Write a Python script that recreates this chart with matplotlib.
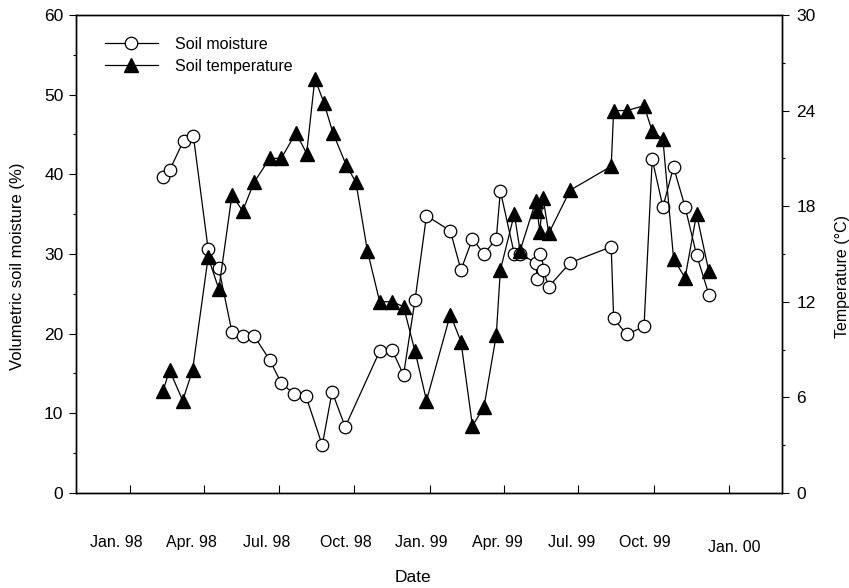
import pandas as pd
import matplotlib
matplotlib.use("Agg")
import matplotlib.pyplot as plt

plt.rcParams['font.family'] = ['Liberation Sans', 'DejaVu Sans']

# soil moisture sampling dates and values (%)
moisture_dates = [
    "1998-02-10", "1998-02-18", "1998-03-07", "1998-03-19", "1998-04-06",
    "1998-04-19", "1998-05-05", "1998-05-18", "1998-06-01", "1998-06-20",
    "1998-07-04", "1998-07-20", "1998-08-03", "1998-08-23", "1998-09-04",
    "1998-09-20", "1998-11-01", "1998-11-16", "1998-11-30", "1998-12-14",
    "1998-12-28", "1999-01-26", "1999-02-08", "1999-02-22", "1999-03-08",
    "1999-03-23", "1999-03-28", "1999-04-14", "1999-04-21", "1999-05-10",
    "1999-05-12", "1999-05-15", "1999-05-19", "1999-05-26", "1999-06-21",
    "1999-08-10", "1999-08-13", "1999-08-29", "1999-09-19", "1999-09-29",
    "1999-10-12", "1999-10-25", "1999-11-08", "1999-11-22", "1999-12-07",
]
moisture = [
    39.6, 40.5, 44.2, 44.8, 30.6,
    28.2, 20.2, 19.7, 19.7, 16.7,
    13.8, 12.4, 12.2, 6.0, 12.7,
    8.3, 17.8, 18.0, 14.8, 24.2,
    34.8, 32.9, 28.0, 31.9, 30.0,
    31.9, 37.9, 30.0, 30.0, 28.9,
    26.9, 30.0, 28.0, 25.9, 28.9,
    30.9, 21.9, 19.9, 20.9, 41.9,
    35.9, 40.9, 35.9, 29.9, 24.9,
]

# soil temperature sampling dates and values (degC)
temp_dates = [
    "1998-02-10", "1998-02-18", "1998-03-06", "1998-03-18", "1998-04-06",
    "1998-04-19", "1998-05-05", "1998-05-18", "1998-06-01", "1998-06-20",
    "1998-07-04", "1998-07-22", "1998-08-04", "1998-08-14", "1998-08-25",
    "1998-09-05", "1998-09-21", "1998-10-03", "1998-10-17", "1998-11-01",
    "1998-11-16", "1998-11-30", "1998-12-14", "1998-12-28", "1999-01-26",
    "1999-02-08", "1999-02-22", "1999-03-08", "1999-03-23", "1999-03-28",
    "1999-04-14", "1999-04-21", "1999-05-10", "1999-05-12", "1999-05-15",
    "1999-05-19", "1999-05-26", "1999-06-21", "1999-08-10", "1999-08-13",
    "1999-08-29", "1999-09-19", "1999-09-29", "1999-10-12", "1999-10-25",
    "1999-11-08", "1999-11-22", "1999-12-07",
]
temperature = [
    6.4, 7.7, 5.8, 7.7, 14.8,
    12.8, 18.7, 17.7, 19.5, 21.0,
    21.0, 22.6, 21.3, 26.0, 24.5,
    22.6, 20.6, 19.5, 15.2, 12.0,
    12.0, 11.7, 8.9, 5.8, 11.2,
    9.5, 4.2, 5.4, 9.9, 14.0,
    17.5, 15.2, 18.3, 17.7, 16.4,
    18.5, 16.3, 19.0, 20.5, 24.0,
    24.0, 24.3, 22.7, 22.2, 14.7,
    13.5, 17.5, 13.9,
]

tick_dates = ["1998-01-01", "1998-04-01", "1998-07-01", "1998-10-01", "1999-01-01",
              "1999-04-01", "1999-07-01", "1999-10-01", "2000-01-01"]
tick_labels = ["Jan. 98", "Apr. 98", "Jul. 98", "Oct. 98", "Jan. 99",
               "Apr. 99", "Jul. 99", "Oct. 99", "Jan. 00"]

md = pd.to_datetime(moisture_dates)
td = pd.to_datetime(temp_dates)
ticks = pd.to_datetime(tick_dates)

fig = plt.figure(figsize=(8.49, 5.88), dpi=100)
ax = fig.add_axes([0.0895, 0.1616, 0.8315, 0.813])
ax2 = ax.twinx()

ln1, = ax.plot(md, moisture, color='black', lw=0.9, marker='o', markersize=9,
               markerfacecolor='white', markeredgecolor='black', markeredgewidth=0.9,
               label="Soil moisture")
ln2, = ax2.plot(td, temperature, color='black', lw=0.9, marker='^', markersize=9.5,
                markerfacecolor='black', markeredgecolor='black',
                label="Soil temperature")

ax.set_xlim(pd.Timestamp("1997-10-27"), pd.Timestamp("2000-03-05"))
ax.set_ylim(0, 60)
ax2.set_ylim(0, 30)

ax.set_yticks(range(0, 61, 10))
ax.set_yticks(range(5, 60, 10), minor=True)
ax2.set_yticks(range(0, 31, 6))
ax2.set_yticks(range(3, 30, 6), minor=True)

ax.set_xticks(ticks)
ax.set_xticklabels([])
ax.xaxis.set_minor_locator(plt.NullLocator())

ax.tick_params(axis='x', which='major', direction='in', length=5.5, width=0.8)
ax.tick_params(axis='y', which='major', direction='out', length=5, width=0.8,
               labelsize=12.5, pad=4)
ax.tick_params(axis='y', which='minor', direction='out', length=2.2, width=0.8)
ax2.tick_params(axis='y', which='major', direction='out', length=5, width=0.8,
                labelsize=12.5, pad=5.5)
ax2.tick_params(axis='y', which='minor', direction='out', length=2.2, width=0.8)

for a in (ax, ax2):
    for s in a.spines.values():
        s.set_linewidth(1.0)

# x tick labels sit well below the axis, nudged off their ticks
label_shift_pt = [-10, -9, -9, -6, -6, -4.5, -4.5, -6.5, 3.5]
label_drop_pt = [-36, -36, -36, -36, -36, -36, -36, -36, -39]
for d, lab, dx, dy in zip(ticks, tick_labels, label_shift_pt, label_drop_pt):
    ax.annotate(lab, xy=(d, 0), xycoords=('data', 'axes fraction'),
                xytext=(dx, dy), textcoords='offset points',
                ha='center', va='center', fontsize=11.5)

fig.text(413 / 849, 1 - 577 / 588, "Date", ha='center', va='center', fontsize=12.5)
fig.text(18 / 849, 1 - 266 / 588, "Volumetric soil moisture (%)", rotation=90,
         ha='center', va='center', fontsize=12)
fig.text(842 / 849, 1 - 276 / 588, "Temperature (°C)", rotation=90,
         ha='center', va='center', fontsize=11.5)

ax2.legend([ln1, ln2], ["Soil moisture", "Soil temperature"], loc='upper left',
           bbox_to_anchor=(105 / 849, 1 - 37 / 588), bbox_transform=fig.transFigure,
           frameon=False, fontsize=11.5, handlelength=3.3, handletextpad=1.1,
           labelspacing=0.42, numpoints=1, borderaxespad=0, borderpad=0)

fig.savefig("out.png", dpi=100)
